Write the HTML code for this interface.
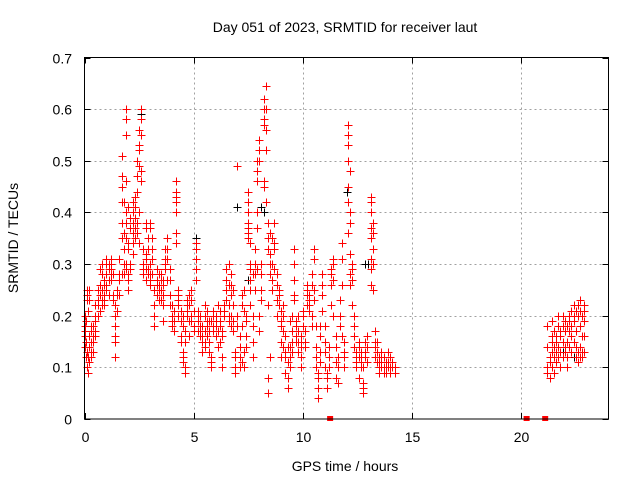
<!DOCTYPE html>
<html><head><meta charset="utf-8"><style>
body{margin:0;background:#fff}
svg{display:block;font-family:"Liberation Sans",sans-serif}
</style></head><body>
<svg id="chart" width="640" height="480" viewBox="0 0 640 480" xmlns="http://www.w3.org/2000/svg">
<rect width="640" height="480" fill="#fff"/>
<text x="345" y="32" font-size="14" text-anchor="middle">Day 051 of 2023, SRMTID for receiver laut</text>
<text x="345" y="471" font-size="14" text-anchor="middle">GPS time / hours</text>
<text transform="translate(18,238) rotate(-90)" font-size="14" text-anchor="middle">SRMTID / TECUs</text>
<g id="grid"></g>
<g id="ticks"></g>
<g id="black"></g>
<g id="red"></g>
<rect x="84.5" y="57.5" width="524" height="361.5" fill="none" stroke="#000" stroke-width="1"/>
</svg>
<script>
const xTicks=[0,5,10,15,20];
const yTicks=[0,0.1,0.2,0.3,0.4,0.5,0.6,0.7];
const yTickLabels=["0","0.1","0.2","0.3","0.4","0.5","0.6","0.7"];
const redTimes=[0,0.05,0.1,0.15,0.2,0.3,0.4,0.5,0.6,0.7,0.8,0.9,1.0,1.1,1.2,1.3,1.4,1.5,1.6,1.7,1.8,1.9,2.0,2.1,2.2,2.3,2.4,2.5,2.6,2.7,2.8,2.9,3.0,3.1,3.2,3.3,3.4,3.5,3.6,3.7,3.8,3.9,4.0,4.1,4.2,4.3,4.4,4.5,4.6,4.7,4.8,4.9,5.0,5.1,5.2,5.3,5.4,5.5,5.6,5.7,5.8,5.9,6.0,6.1,6.2,6.3,6.4,6.5,6.6,6.7,6.8,6.9,7.0,7.1,7.2,7.3,7.4,7.5,7.6,7.7,7.8,7.9,8.0,8.1,8.2,8.3,8.4,8.5,8.6,8.7,8.8,8.9,9.0,9.1,9.2,9.3,9.4,9.5,9.6,9.7,9.8,9.9,10.0,10.1,10.2,10.3,10.4,10.5,10.6,10.7,10.8,10.9,11.0,11.1,11.2,11.3,11.4,11.5,11.6,11.7,11.8,11.9,12.05,12.15,12.25,12.35,12.45,12.55,12.65,12.75,12.85,12.95,13.1,13.2,13.3,13.4,13.5,13.6,13.7,13.8,13.9,14.0,14.1,14.2,21.2,21.3,21.4,21.5,21.6,21.7,21.8,21.9,22.0,22.1,22.2,22.3,22.4,22.5,22.6,22.7,22.8,22.9];
const redValues=[[.18,.16,.2,.14,.17],[.15,.19,.12],[.1,.13,.24,.25,.23],[.09,.12,.21],[.11,.14,.16,.25,.23],[.12,.13,.15,.17,.18],[.13,.15,.16,.18],[.16,.17,.19,.2,.22],[.2,.22,.23,.25],[.21,.24,.26,.29],[.22,.25,.28,.3,.23],[.23,.22,.24,.26,.27],[.26,.28,.3,.31,.25],[.24,.27,.29,.3],[.27,.29,.31,.3,.28],[.24,.23,.28],[.18,.15,.12,.2,.22,.16],[.24,.21,.25],[.31,.28,.24,.27],[.38,.35,.42,.45,.47,.51,.28],[.33,.36,.28,.3,.42],[.55,.58,.6,.46,.4,.38,.35,.3,.29],[.33,.34,.28,.27,.25,.41],[.3,.29,.37,.39],[.38,.4,.36,.34,.32,.42],[.37,.39,.43,.41,.35],[.38,.36,.44,.47,.5],[.49,.52,.53,.56,.4,.34],[.58,.6,.55,.48,.46],[.3,.28,.29,.33],[.27,.29,.32,.37,.38,.31],[.35,.33,.29,.28],[.3,.28,.27,.26,.38,.37],[.31,.33,.35,.28],[.2,.18,.25,.22],[.26,.24,.27,.29],[.23,.25,.28,.26],[.28,.27,.25,.23],[.27,.26,.24,.22,.19],[.29,.31,.33,.3],[.33,.35,.31,.27],[.29,.27,.24,.22],[.18,.19,.2,.22],[.19,.17,.21],[.44,.43,.46,.42,.4,.34,.36],[.2,.22,.24,.25,.23],[.15,.16,.19,.21],[.12,.11,.13,.2,.18],[.15,.17,.1,.09],[.21,.22,.2,.23],[.22,.24,.19,.16],[.2,.23,.25,.19],[.21,.18,.17],[.34,.33,.31,.29,.27],[.21,.2,.19,.17],[.16,.17,.18,.2],[.15,.16,.13,.18],[.17,.15,.14,.2,.22],[.16,.18,.19,.21],[.19,.17,.15,.13],[.11,.1,.12,.19],[.18,.17,.2,.21],[.16,.19,.2,.18],[.17,.14,.22],[.15,.18,.19,.21],[.1,.12,.16,.17],[.2,.22,.21],[.23,.25,.27,.29],[.2,.22,.19,.26,.3],[.28,.26,.24,.2,.18],[.22,.25,.19,.17],[.13,.12,.1,.09],[.49,.2,.18],[.12,.1,.14,.16],[.22,.24,.18,.11],[.1,.13,.21,.25],[.2,.19,.16,.14],[.36,.37,.35,.38,.4,.44,.42],[.34,.3,.29,.27,.25,.22],[.2,.18,.15,.12,.28],[.3,.33,.28,.25],[.5,.48,.46,.4,.37,.29],[.54,.52,.5,.2,.17],[.23,.25,.28,.3],[.58,.6,.62,.57,.46,.45],[.645,.6,.56,.52,.42],[.38,.35,.33,.22,.08,.05],[.36,.32,.3,.28,.12],[.35,.3,.27,.25],[.38,.34,.33,.29],[.28,.26,.23,.2],[.25,.24,.22],[.19,.18,.15,.12,.21],[.22,.2,.17,.14],[.16,.13,.12,.09],[.08,.06,.11,.14],[.14,.12,.1,.19],[.2,.17,.15,.13],[.33,.3,.27,.24,.23],[.18,.16,.15,.19],[.13,.15,.17,.2],[.14,.15,.16,.12,.1],[.18,.2,.21,.2],[.17,.15,.14],[.22,.24,.25,.26],[.23,.24,.22,.21],[.28,.26,.2,.18],[.33,.31,.25,.23],[.18,.14,.12,.1],[.04,.06,.08,.09],[.11,.13,.16,.18],[.21,.24,.26,.28],[.18,.15,.13,.1],[.08,.06,.09],[.1,.12,.14],[.22,.26,.28,.29],[.3,.31,.27,.2],[.16,.14,.11,.08],[.07,.1,.12],[.18,.2,.23],[.26,.31,.34,.16],[.12,.13,.15,.1],[.57,.55,.53,.5,.45,.42,.36],[.48,.4,.38,.32,.28,.26],[.29,.3,.27,.22],[.2,.18,.16,.14],[.12,.1,.11,.13],[.15,.14,.12,.08],[.13,.12,.11,.1],[.1,.07,.06,.05],[.15,.13,.12],[.11,.14,.16],[.43,.42,.4,.37,.35,.31,.29,.26],[.38,.36,.33,.3,.25],[.17,.15,.14,.12],[.11,.13,.15],[.12,.1,.09,.11],[.13,.11,.1,.12],[.1,.09,.1,.12],[.11,.1,.09],[.1,.11,.13],[.09,.1,.12],[.11,.1],[.09,.1],[.18,.14,.1,.09],[.12,.11,.08],[.15,.13,.1,.16,.19],[.12,.14,.17,.09],[.16,.15,.13,.11],[.18,.14,.12,.2],[.16,.13,.1,.17],[.15,.18,.12,.2],[.17,.19,.14,.13],[.18,.15,.12,.1],[.2,.19,.17,.14],[.21,.18,.16,.13],[.2,.22,.19,.15],[.21,.17,.14,.12],[.22,.2,.13,.11],[.23,.21,.18,.14,.12],[.2,.16,.13,.12],[.22,.21,.19,.16,.13]];
const zeroTimes=[11.25,20.25,21.1];
const blackTimes=[1.9,1.9,5.1,7.0,8.1,8.2,4.2,12.85,13.0,22.4,21.9,8.4,7.5,12.0,2.6];
const blackValues=[.6,.58,.35,.41,.41,.4,.46,.3,.3,.12,.13,.08,.27,.44,.59];

const X0=84.5,X1=608.5,Y0=419,Y1=57.5,XMAX=24,YMAX=0.7;
function xs(t){return X0+(X1-X0)*t/XMAX;}
function ys(v){return Y0-(Y0-Y1)*v/YMAX;}
const NS="http://www.w3.org/2000/svg";
function mk(tag,parent,attrs){const e=document.createElementNS(NS,tag);for(const k in attrs)e.setAttribute(k,attrs[k]);parent.appendChild(e);return e;}
const grid=document.getElementById('grid'),ticks=document.getElementById('ticks');
xTicks.forEach(t=>{
  const x=Math.round(xs(t))+0.5;
  if(t>0){const g=mk('line',grid,{x1:x,x2:x,y1:Y1,y2:Y0,stroke:'#a0a0a0','stroke-dasharray':'2,3'});
  
  }
  mk('line',ticks,{x1:x,x2:x,y1:Y0,y2:Y0-6,stroke:'#000'});
  mk('line',ticks,{x1:x,x2:x,y1:Y1,y2:Y1+6,stroke:'#000'});
  const l=mk('text',ticks,{x:x,y:442,'font-size':14,'text-anchor':'middle'});l.textContent=t;
  
  
});
yTicks.forEach((v,i)=>{
  const y=Math.round(ys(v))+0.5;
  if(i>0&&i<yTicks.length-1){const g=mk('line',grid,{x1:X0,x2:X1,y1:y,y2:y,stroke:'#a0a0a0','stroke-dasharray':'2,3'});
  
  }
  mk('line',ticks,{x1:X0,x2:X0+6,y1:y,y2:y,stroke:'#000'});
  mk('line',ticks,{x1:X1-6,x2:X1,y1:y,y2:y,stroke:'#000'});
  const l=mk('text',ticks,{x:72,y:y+5,'font-size':14,'text-anchor':'end'});l.textContent=yTickLabels[i];
  
  
});
function plus(parent,t,v,color,name){
  const x=Math.round(xs(t))+0.5,y=Math.round(ys(v))+0.5;
  const p=mk('path',parent,{d:`M${x-4} ${y}H${x+4}M${x} ${y-4}V${y+4}`,stroke:color,'stroke-width':1,fill:'none'});
  
  
}
const black=document.getElementById('black'),red=document.getElementById('red');
blackTimes.forEach((t,i)=>plus(black,t,blackValues[i],'#000','black-point'));
redTimes.forEach((t,i)=>redValues[i].forEach(v=>plus(red,t,v,'#ff0000','red-point')));
zeroTimes.forEach(t=>{
  const r=mk('rect',red,{x:xs(t)-3,y:Y0-3,width:6,height:5,fill:'#ff0000'});
  
  
});
</script>
</body></html>
